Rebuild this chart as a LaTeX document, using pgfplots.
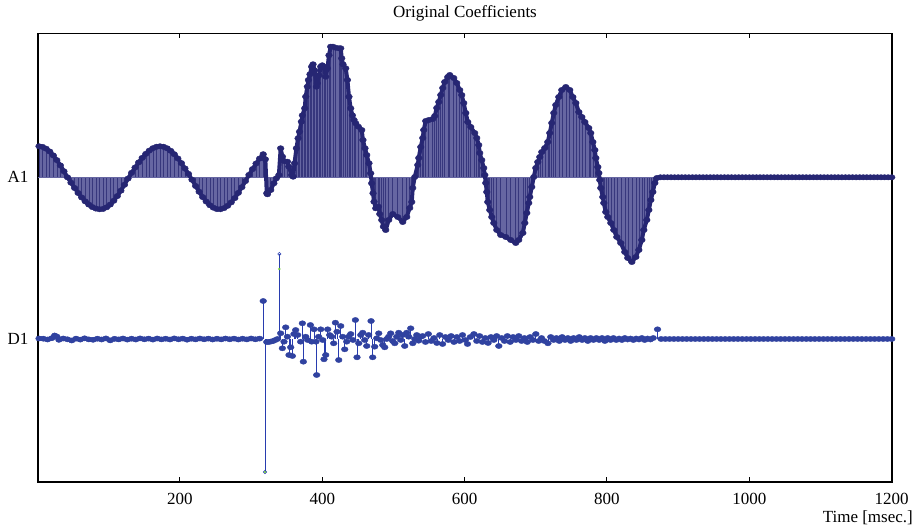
\documentclass[border=0pt]{standalone}
\usepackage{pgfplots}
\usepackage{pgfplotstable}
\pgfplotsset{compat=1.18}
\usepackage{fontspec}
\setmainfont{Liberation Serif}
\definecolor{amark}{RGB}{38,38,115}
\definecolor{afill}{RGB}{102,102,162}
\definecolor{astem}{RGB}{55,55,125}
\definecolor{dmark}{RGB}{48,66,160}
\definecolor{dstem}{RGB}{40,60,175}
\definecolor{dgreen}{RGB}{110,200,60}

\pgfplotstableread{
t v
2 31
7 30.4
12 28.6
17 25.8
22 21.9
27 17.2
32 11.9
37 6.0
42 0
47 -5.4
52 -10.7
57 -15.7
62 -20.2
67 -24.1
72 -27.3
77 -29.8
82 -31.3
87 -32
92 -31.6
97 -30.0
102 -27.3
107 -23.5
112 -18.8
117 -13.4
122 -7.5
127 -1.3
132 4.4
137 9.8
142 14.9
147 19.4
152 23.4
157 26.7
162 29.1
167 30.5
172 31
177 30.5
182 29.0
187 26.5
192 23.1
197 18.9
202 14.2
207 8.9
212 3.4
217 -2.5
222 -8.7
227 -14.5
232 -19.8
237 -24.3
242 -27.9
247 -30.4
252 -31.8
257 -31.9
262 -30.8
267 -28.5
272 -25.1
277 -20.8
282 -15.6
287 -9.9
292 -3.8
297 2.4
302 8.2
307 13.8
312 18.8
317 23.1
320 18
322 -16
323 -17
327.5 -12.7
332 -6
335.5 -1
339 2.3
341.5 29
344 20.6
346 16.3
351 15.6
353 10.6
357 2.3
359 0.6
361 14
363.6 29
366 39
368 45.6
370.6 55.6
372 62
375.3 69
376.7 80.6
379 90.6
380.5 97.3
382.7 103
385 110.6
387 113
389.3 107
391.7 90.6
393 94
395.4 102
397.8 110.6
400 112
402.4 110.6
404.8 100.6
407.2 109
409.4 122
411.8 130.6
415 130.6
418.8 129.6
423.5 129
425.9 129
427.3 119
429.1 113
432.9 109
435.3 97.3
437.5 80.6
439.9 69
442.3 62
444.6 57.3
447 54
450.7 50.6
455.4 47.3
457.1 37.3
460 29
462.4 22.3
465.6 14
468 4
469.4 -6
471.3 -16
472.7 -24.4
475.1 -31
478.9 -29.4
480.7 -36.7
483.5 -42.7
485.9 -49.4
489.1 -52.7
493.3 -42.7
499 -36.7
506 -39.7
513 -44.7
518.6 -39.7
522.8 -30.7
525.7 -24.7
527.1 -10.7
529.9 0.3
534.1 12.3
535.5 19.3
538.3 30.3
541.1 39.3
542.5 47.3
545.3 56.3
549.6 57.3
555.2 58.3
558 61.3
560.8 69.3
563.6 75.3
566.4 82.3
569.2 89.3
572 95.3
576.3 100.3
579.1 102.3
584.7 99.3
588.9 94.3
593.1 87.3
595.9 82.3
598.7 74.3
601.6 64.3
604.4 55.3
608.6 50.3
614.2 44.3
617 39.3
619.8 32.3
621.2 24.3
624 17.3
626.8 9.3
628.3 2.3
629.7 -5.7
631.1 -14.7
632.5 -24.7
635.3 -32.7
638.1 -39.7
640.9 -45.7
645.1 -52.7
650.7 -57.7
657.8 -59.7
664.8 -62.7
671.8 -65.7
676 -62.7
681.7 -55.7
684.5 -45.7
687.3 -35.7
690.1 -25.7
691.5 -19.7
694.3 -9.7
697.1 0.3
699.9 9.3
702.8 15.3
705.6 20.3
708.4 25.3
712.6 29.3
716.8 35.3
719.6 44.3
722.4 54.3
725.2 64.3
728 72.3
732.3 80.3
736.5 87.3
742.1 90.3
747.7 87.3
752 80.3
756.2 74.3
760.4 65.3
764.6 60.3
768.8 55.3
774.4 49.3
777.2 44.3
780.1 35.3
782.9 27.3
784.3 19.3
787.1 10.3
788.5 4.3
789.9 -2.7
791.3 -10.7
794.1 -19.7
795.5 -25.7
798.3 -34.7
801.1 -39.7
805.4 -45.7
809.6 -52.7
813.8 -59.7
819.4 -65.7
825 -74.7
829.2 -80.7
834.9 -84.7
840.5 -79.7
844.7 -72.7
848.9 -62.7
851.7 -52.7
855.9 -42.7
858.8 -32.7
861.6 -22.7
864.4 -14.7
867.2 -5.7
870 -0.7
875 0
880 0
885 0
890 0
895 0
900 0
905 0
910 0
915 0
920 0
925 0
930 0
935 0
940 0
945 0
950 0
955 0
960 0
965 0
970 0
975 0
980 0
985 0
990 0
995 0
1000 0
1005 0
1010 0
1015 0
1020 0
1025 0
1030 0
1035 0
1040 0
1045 0
1050 0
1055 0
1060 0
1065 0
1070 0
1075 0
1080 0
1085 0
1090 0
1095 0
1100 0
1105 0
1110 0
1115 0
1120 0
1125 0
1130 0
1135 0
1140 0
1145 0
1150 0
1155 0
1160 0
1165 0
1170 0
1175 0
1180 0
1185 0
1190 0
1195 0
1200 0
}\Aone

\pgfplotstableread{
t v
2 0.5
8 0.3
14 -0.5
20 0.8
24 3.5
27 2.5
30 -0.8
36 0.5
42 -0.3
48 -1.5
54 0.4
60 -0.6
66 0.7
72 -0.4
78 -0.8
84 0.3
90 -0.5
96 0.6
102 -1.4
108 0.2
114 -0.4
120 0.5
126 -0.6
132 0.3
138 -0.5
144 0.6
150 -0.3
156 0.4
162 -0.6
168 0.5
174 -0.4
180 0.3
186 -0.5
192 0.6
198 -0.3
204 0.4
210 -0.7
216 0.3
222 -0.4
228 0.5
234 -0.3
240 0.4
246 -0.5
252 0.3
258 -0.4
264 0.5
270 -0.3
276 0.4
282 -0.5
288 0.3
294 -0.4
300 0.5
306 -0.3
312 0.4
317 38
322 -3
325 -3
328 -2.5
331 -2
334 -1
337 0
341.5 5.7
343.9 -9.3
346.2 -2.7
348.6 11.7
351.0 2.3
353.2 -16
355.6 -8.3
358.0 -17
360.2 5
362.6 9
365.4 4
369.6 -2.7
372.0 15.7
373.4 -22.7
376.7 2.3
379.5 -1
383.3 14
385.1 -2.7
388.3 9.7
391.1 -2.7
392.1 -36
394.9 2.3
397.8 9.7
400.6 -1
402.4 -20.3
404.8 -16
407.6 9.7
410.4 4
413.2 2.3
416.0 -4.3
418.4 16.3
420.7 7.3
423.1 -21
425.9 13
428.7 2.3
431.5 -10.3
434.3 -2.7
437.1 2.3
439.9 5
443.2 -1
446.5 19
448.8 -18.3
451.2 -4.3
454.0 4
456.8 6.3
459.6 -1
462.4 -7
465.2 4
468.5 18
470.8 -18.3
473.6 -7.7
476.5 0.7
479.3 5.7
482.1 -1
484.9 -6
487.7 -8.3
490.5 0
493.3 2.3
496.1 5.7
498.9 -2
501.8 -4.3
504.6 2.3
507.4 6.3
510.2 -1
513.0 4
515.8 -7
518.6 6.3
521.4 2.3
524.2 10.7
527.1 -4.3
529.9 0
532.7 4
535.5 -1.7
538.3 2.3
541 3
545 -3
549 5
553 -2
557 1
561 -4
565 4
569 -5
573 2
577 -1
581 3
585 -3
589 2
593 -2
597 4
601 -1
604 -5
608 2
613 5
617 -2
621 3
625 -3
629 1
633 -4
637 2
641 -1
645 3
648 -7
652 1
656 -2
660 3
664 -3
668 2
672 -1
676 3
680 -2
684 1
688 -3
692 2
696 -1
700 5
704 -2
708 1
712 -2
717 -4.3
721 2
725 -1
729 1
733 -2
737 2
741 -1
745 1
749 -2
753 1
757 -1
761 2
765 -1
769 1
773 -2
777 1
781 -1
785 1
789 -1
793 1
797 -2
801 1
805 -1
809 1
813 -1
817 0.5
821 -1
825 1
829 -0.5
833 0.5
837 -1
841 0.5
845 -0.5
849 1
853 -1
857 0.5
861 -0.5
865 1
871 9.7
876 0
882 0
888 0
894 0
900 0
906 0
912 0
918 0
924 0
930 0
936 0
942 0
948 0
954 0
960 0
966 0
972 0
978 0
984 0
990 0
996 0
1002 0
1008 0
1014 0
1020 0
1026 0
1032 0
1038 0
1044 0
1050 0
1056 0
1062 0
1068 0
1074 0
1080 0
1086 0
1092 0
1098 0
1104 0
1110 0
1116 0
1122 0
1128 0
1134 0
1140 0
1146 0
1152 0
1158 0
1164 0
1170 0
1176 0
1182 0
1188 0
1194 0
1200 0
}\Done

\pgfplotstableread{
t v
319.5 -133
339.7 85
}\Dspec

\begin{document}
\fontsize{17}{20}\selectfont
\begin{tikzpicture}
\begin{axis}[
  at={(0,0)}, anchor=south west,
  scale only axis, width=853.4pt, height=448.8pt,
  xmin=1, xmax=1200, ymin=-305, ymax=143.8,
  axis line style={line width=1.7pt},
  xtick={200,400,600,800,1000,1200},
  tick align=inside, xtick pos=both, ytick pos=left,
  major tick length=5pt,
  xtick style={black, line width=1pt},
  ytick style={draw=none},
  ytick={-161.7,0}, yticklabels={D1,A1},
  /pgf/number format/assume math mode=true,
  /pgf/number format/1000 sep={},
  scaled x ticks=false,
  xticklabel style={yshift=-5pt},
  yticklabel style={xshift=-4pt},
  title={Original Coefficients},
  title style={at={(axis description cs:0.5,1)}, anchor=base, inner sep=0pt, yshift=10.2pt},
  xlabel={Time [msec.]},
  xlabel style={at={(axis description cs:1,0)}, anchor=base east, inner sep=0pt, xshift=21.3pt, yshift=-40.4pt},
  clip=false,
]
\addplot[draw=none, fill=afill] table[x=t,y=v]{\Aone} \closedcycle;
\addplot[ycomb, astem, line width=0.55pt] table[x=t,y=v]{\Aone};
\addplot[afill, line width=0.8pt] coordinates {(1,0) (870,0)};
\addplot[amark, line width=4pt, line join=round] table[x=t,y=v]{\Aone};
\addplot[only marks, mark=*, mark size=2.7pt, mark options={draw=amark, fill=amark, xscale=1.25, line width=0.4pt}] table[x=t,y=v]{\Aone};
\end{axis}
\begin{axis}[
  at={(0,0)}, anchor=south west,
  scale only axis, width=853.4pt, height=448.8pt,
  xmin=1, xmax=1200, ymin=-143.3, ymax=305.5,
  hide axis, clip=false,
]
\addplot[ycomb, dstem, line width=0.7pt] table[x=t,y=v]{\Done};
\addplot[ycomb, dstem, line width=0.7pt] table[x=t,y=v]{\Dspec};
\addplot[dmark, line width=4.5pt, restrict x to domain=1:316] table[x=t,y=v]{\Done};
\addplot[dmark, line width=4.5pt, restrict x to domain=875:1200] table[x=t,y=v]{\Done};
\addplot[only marks, mark=*, mark size=2.6pt, mark options={draw=dmark, fill=dmark, xscale=1.3, line width=0.4pt}] table[x=t,y=v]{\Done};
\addplot[only marks, mark=o, mark size=1.7pt, mark options={draw=dstem, fill=white, line width=0.6pt}] table[x=t,y=v]{\Dspec};
\addplot[only marks, mark=*, mark size=0.9pt, color=dgreen] coordinates {(339.7,70) (319.5,-133)};
\end{axis}
\pgfresetboundingbox
\useasboundingbox (-38.3pt,-48.7pt) rectangle (880.7pt,482.3pt);
\end{tikzpicture}
\end{document}
